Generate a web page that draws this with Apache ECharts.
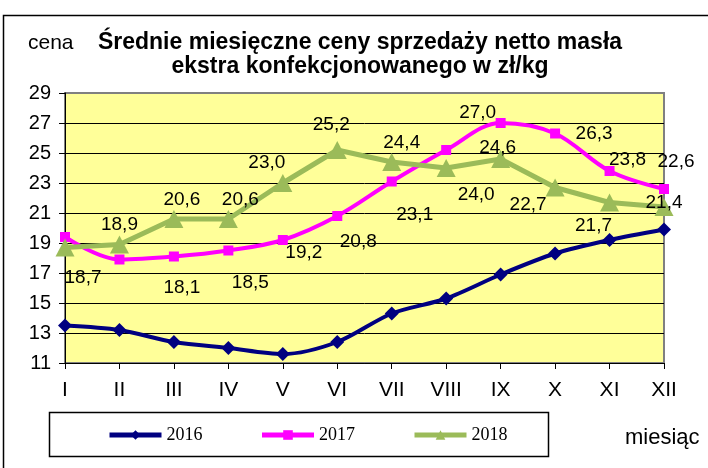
<!DOCTYPE html>
<html>
<head>
<meta charset="utf-8">
<script src="https://cdn.jsdelivr.net/npm/echarts@6/dist/echarts.min.js"></script>
<style>
html,body{margin:0;padding:0;background:#fff;}
#c{width:708px;height:468px;}
</style>
</head>
<body>
<div id="c"></div>
<script>
const months = ['I','II','III','IV','V','VI','VII','VIII','IX','X','XI','XII'];
const yTicks = [11, 13, 15, 17, 19, 21, 23, 25, 27, 29];
const s2016 = [13.5, 13.2, 12.4, 12.0, 11.6, 12.4, 14.3, 15.3, 16.9, 18.3, 19.2, 19.9];
const s2017 = [19.4, 17.9, 18.1, 18.5, 19.2, 20.8, 23.1, 25.2, 27.0, 26.3, 23.8, 22.6];
const s2018 = [18.7, 18.9, 20.6, 20.6, 23.0, 25.2, 24.4, 24.0, 24.6, 22.7, 21.7, 21.4];
const seriesNames = ['2016', '2017', '2018'];

// label offsets (style only), null = no label
const off2017 = [null, null, [8,31], [22,32], [21,13], [21,26], [23,33], null, [-23,-10], [39,0], [18,-11], [12,-27]];
const off2018 = [[18,30], [0,-20], [8,-19], [12,-19], [-16,-20], [-6,-25], [10,-19], [30,27], [-3,-11], [-27,17], [-16,23], [0,-4]];

const FONT = "'Liberation Sans', Arial, sans-serif";
const fmt = v => v.toFixed(1).replace('.', ',');

function withLabels(values, offs) {
  return values.map((v, i) => {
    const o = offs[i];
    if (!o) return { value: v, label: { show: false } };
    return {
      value: v,
      label: {
        show: true, position: 'inside', offset: o,
        formatter: fmt(v), color: '#000', fontSize: 19, fontFamily: FONT
      }
    };
  });
}

const chart = echarts.init(document.getElementById('c'), null, {renderer: 'canvas'});
chart.setOption({
  animation: false,
  backgroundColor: '#fff',
  grid: { left: 65, right: 44, top: 93, bottom: 105, show: true, backgroundColor: '#FFFF99', borderColor: '#808080', borderWidth: 2 },
  xAxis: {
    type: 'category', data: months, boundaryGap: false,
    axisLine: { lineStyle: { color: '#000', width: 1 } },
    axisTick: { show: true, length: 6, lineStyle: { color: '#000' } },
    axisLabel: { color: '#000', fontSize: 21, fontFamily: FONT, margin: 17 },
    splitLine: { show: false }
  },
  yAxis: {
    type: 'value', min: yTicks[0], max: yTicks[yTicks.length - 1], interval: yTicks[1] - yTicks[0],
    axisLine: { show: true, lineStyle: { color: '#000', width: 1 } },
    axisTick: { show: true, length: 6, lineStyle: { color: '#000' } },
    axisLabel: { color: '#000', fontSize: 20, fontFamily: FONT, margin: 14 },
    splitLine: { show: true, showMaxLine: false, lineStyle: { color: '#000', width: 1 } }
  },
  legend: {
    left: 107, top: 426, padding: 0, itemGap: 57, itemWidth: 52, itemHeight: 12,
    lineStyle: { width: 5 },
    textStyle: { color: '#000', fontSize: 18, fontFamily: "'Liberation Serif', 'Times New Roman', serif" },
    data: seriesNames
  },
  series: [
    {
      name: seriesNames[0], type: 'line', data: s2016, smooth: 0.3,
      symbol: 'diamond', symbolSize: 14, color: '#000080',
      lineStyle: { color: '#000080', width: 4 }, itemStyle: { color: '#000080' },
      label: { show: false }, z: 3
    },
    {
      name: seriesNames[1], type: 'line', data: withLabels(s2017, off2017), smooth: 0.35,
      symbol: 'rect', symbolSize: 10, color: '#FF00FF',
      lineStyle: { color: '#FF00FF', width: 4 }, itemStyle: { color: '#FF00FF' }, z: 4
    },
    {
      name: seriesNames[2], type: 'line', data: withLabels(s2018, off2018), smooth: false,
      symbol: 'triangle', symbolSize: [19, 18], color: '#9BBB59',
      lineStyle: { color: '#9BBB59', width: 5 }, itemStyle: { color: '#9BBB59' }, z: 5
    }
  ],
  graphic: [
    { type: 'rect', shape: { x: 3.5, y: 15.5, width: 720, height: 470 }, style: { fill: null, stroke: '#000', lineWidth: 1.5 }, silent: true, z: -10 },
    { type: 'rect', shape: { x: 49.5, y: 412.5, width: 499, height: 44 }, style: { fill: null, stroke: '#000', lineWidth: 1.5 }, silent: true },
    { type: 'text', x: 360, y: 55, style: { text: 'Średnie miesięczne ceny sprzedaży netto masła\nekstra konfekcjonowanego w zł/kg', fill: '#000', font: 'bold 23px ' + FONT, align: 'center', verticalAlign: 'middle', lineHeight: 24 } },
    { type: 'text', x: 28, y: 43, style: { text: 'cena', fill: '#000', font: '21px ' + FONT, align: 'left', verticalAlign: 'middle' } },
    { type: 'text', x: 625, y: 438, style: { text: 'miesiąc', fill: '#000', font: '22px ' + FONT, align: 'left', verticalAlign: 'middle' } }
  ]
});
</script>
</body>
</html>
